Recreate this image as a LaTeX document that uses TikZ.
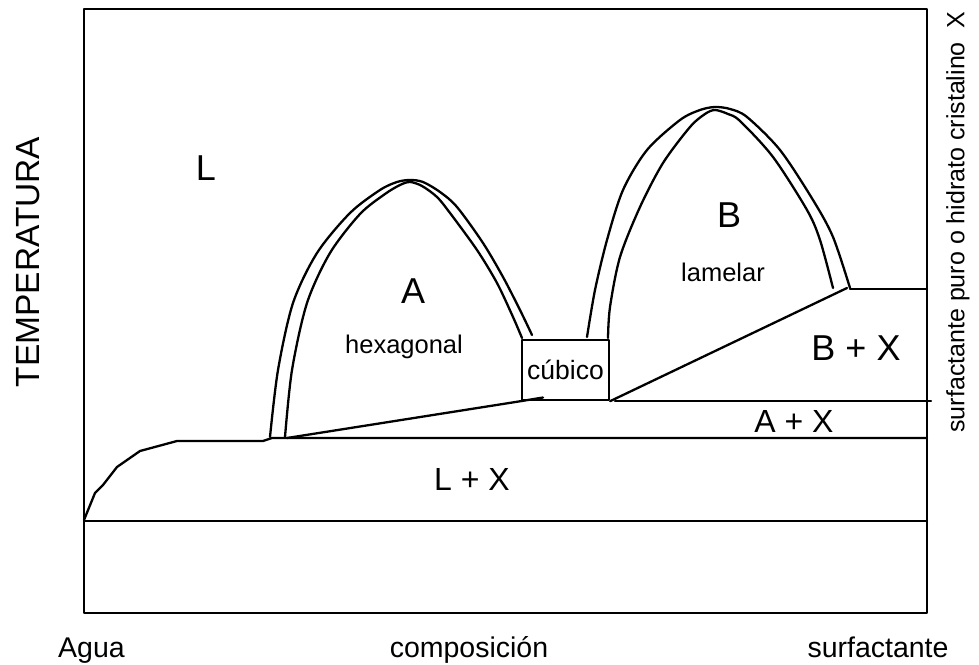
\documentclass[tikz,border=0pt]{standalone}
\usepackage{fontspec}
\setmainfont{Liberation Sans}
\usepackage{tikz}
\usetikzlibrary{positioning}
\definecolor{pdInk}{HTML}{000000}
\tikzset{
  pd diagram/.style={x=1pt, y=-1pt, text=pdInk,
    line cap=round, line join=round},
  pd frame/.style={draw=pdInk, line width=2.6pt},
  pd line/.style={draw=pdInk, line width=2.3pt},
  pd label/.style={font=\fontsize{28.5}{30}\selectfont, inner sep=0pt},
  pd region/.style={font=\fontsize{32}{34}\selectfont, inner sep=0pt},
  pd big label/.style={font=\fontsize{36}{38}\selectfont, inner sep=0pt},
  pd small label/.style={font=\fontsize{25.5}{27}\selectfont, inner sep=0pt},
  pd axis label/.style={font=\fontsize{33.5}{35}\selectfont, inner sep=0pt, rotate=90},
  pd side label/.style={font=\fontsize{25}{27}\selectfont, inner sep=0pt, rotate=90},
  pd phase box/.style={draw=pdInk, line width=2.3pt, inner sep=0pt,
    minimum width=87pt, minimum height=60pt, font=\fontsize{26.5}{28}\selectfont}
}

\begin{document}
\begin{tikzpicture}[pd diagram]
\useasboundingbox (0,0) rectangle (979,664);
% frame and solidus
\draw[pd frame] (84,9) rectangle (927,613);
\coordinate (eut) at (84,521);
\coordinate (hexfoot) at (287,438);
\coordinate (lamfoot) at (847,288);
\draw[pd line] (eut) -- (927,521);
% liquidus
\draw[pd line] (84,520) -- (95,493) -- (103,485) -- (117,467) -- (140,451)
  -- (177,441) -- (263,441) -- (272,438) -- (hexfoot) -- (927,438);
% cubic phase
\node[pd phase box] (cubic) at (565.5,370) {\raisebox{-2pt}{cúbico}};
\draw[pd line] (hexfoot) -- (cubic.south west) -- (543,397.5);
\draw[pd line] (cubic.south east) -- (lamfoot);
\draw[pd line] (850,289) -- (927,289);
\draw[pd line] (615,401) -- (931,401);
% hexagonal dome
\draw[pd line] plot[smooth] coordinates {(270,437) (278,370) (293,303) (317,253)
  (350,213) (380,190) (397,182) (410,180) (423,182) (440,192) (457,207) (483,243)
  (503,277) (520,310) (532,335)};
\draw[pd line] plot[smooth] coordinates {(285,437) (292,370) (307,303) (330,253)
  (360,214) (385,194) (400,185) (410,182) (422,186) (437,197) (450,213) (477,250)
  (497,283) (513,317) (522,338)};
% lamellar dome
\draw[pd line] plot[smooth] coordinates {(587,337) (595,290) (607,240) (623,190)
  (647,150) (680,120) (700,110) (715,107) (730,109) (747,117) (780,150) (813,200)
  (833,237) (850,288)};
\draw[pd line] plot[smooth] coordinates {(608,338) (610,307) (620,257) (640,207)
  (663,163) (690,127) (705,114) (715,110) (728,114) (740,121) (773,157) (807,210)
  (820,240) (833,288)};
% phase labels
\node[pd big label] (lblL) at (206,168) {L};
\node[pd big label] (lblA) at (413,291) {A};
\node[pd small label] (lblhex) at (404,347) {hexagonal};
\node[pd big label] (lblB) at (729,215) {B};
\node[pd small label] (lbllam) at (723,272) {lamelar};
\node[pd big label] (lblBX) at (856,348) {B + X};
\node[pd region] (lblAX) at (794,421) {A + X};
\node[pd region] (lblLX) at (472,479) {L + X};
% axes
\node[pd label, anchor=base west] (agua) at (58,657) {Agua};
\node[pd label, anchor=base] (comp) at (469,657) {composición};
\node[pd label, anchor=base] (surf) at (878,657) {surfactante};
\node[pd axis label] (temp) at (28,262) {TEMPERATURA};
\node[pd side label] (pure) at (958,222) {surfactante puro o hidrato cristalino\ \ X};
\end{tikzpicture}
\end{document}
